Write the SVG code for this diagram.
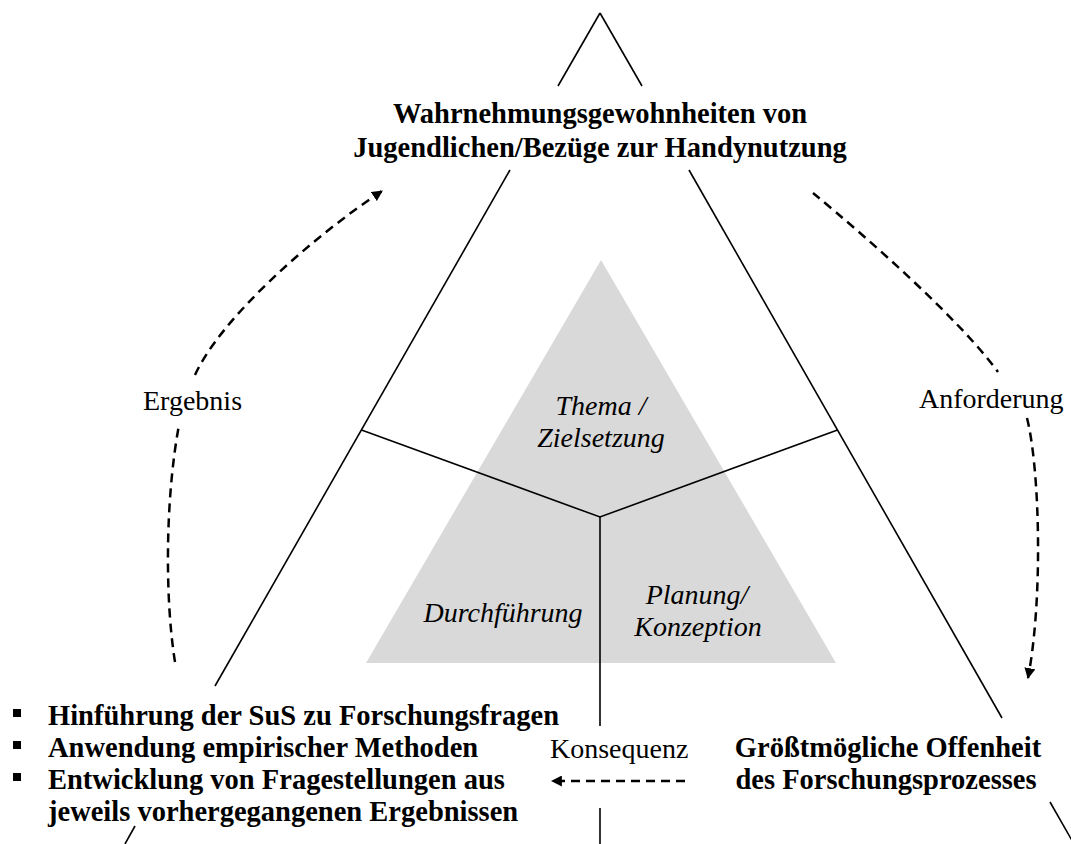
<svg xmlns="http://www.w3.org/2000/svg" width="1071" height="844" viewBox="0 0 1071 844">
  <style>
    .bold { font-family: "Liberation Serif", "Times New Roman", serif; font-weight: bold; font-size: 28.5px; fill: #000; }
    .reg { font-family: "Liberation Serif", "Times New Roman", serif; font-size: 28px; fill: #000; }
    .ital { font-family: "Liberation Serif", "Times New Roman", serif; font-style: italic; font-size: 28px; fill: #000; }
    .solid { stroke: #000; stroke-width: 1.6; fill: none; }
    .dash { stroke: #000; stroke-width: 2.5; fill: none; stroke-dasharray: 9 6; }
  </style>
  <defs>
    <marker id="ah" viewBox="0 0 10 10" refX="9" refY="5" markerWidth="11" markerHeight="11" markerUnits="userSpaceOnUse" orient="auto">
      <path d="M0,0 L10,5 L0,10 z" fill="#000"/>
    </marker>
  </defs>
  <rect width="1071" height="844" fill="#fff"/>

  <g id="inner-triangle">
    <polygon points="601,260 366,663 836,663" fill="#d9d9d9"/>
  </g>

  <g id="frame">
    <line class="solid" x1="600" y1="13" x2="558" y2="86"/>
    <line class="solid" x1="600" y1="13" x2="642" y2="86"/>
    <line class="solid" x1="510" y1="170" x2="215" y2="686"/>
    <line class="solid" x1="135" y1="826" x2="125" y2="844"/>
    <line class="solid" x1="689" y1="170" x2="1002" y2="718"/>
    <line class="solid" x1="1050" y1="802" x2="1074" y2="844"/>
    <polyline class="solid" points="361.5,430 600,517 837.5,430"/>
    <line class="solid" x1="600" y1="517" x2="600" y2="726"/>
    <line class="solid" x1="600" y1="808" x2="600" y2="844"/>
  </g>

  <g id="node-top">
    <text class="bold" x="600" y="123" text-anchor="middle">Wahrnehmungsgewohnheiten von</text>
    <text class="bold" x="600" y="157" text-anchor="middle">Jugendlichen/Bezüge zur Handynutzung</text>
  </g>

  <g id="node-thema">
    <text class="ital" x="601" y="415" text-anchor="middle">Thema /</text>
    <text class="ital" x="601" y="447" text-anchor="middle">Zielsetzung</text>
  </g>
  <g id="node-durchfuehrung">
    <text class="ital" x="503" y="622" text-anchor="middle">Durchführung</text>
  </g>
  <g id="node-planung">
    <text class="ital" x="697" y="604" text-anchor="middle">Planung/</text>
    <text class="ital" x="698" y="636" text-anchor="middle">Konzeption</text>
  </g>

  <g id="node-left">
    <rect x="13" y="709" width="8" height="8" fill="#000"/>
    <rect x="13" y="741" width="8" height="8" fill="#000"/>
    <rect x="13" y="773" width="8" height="8" fill="#000"/>
    <text class="bold" x="48" y="725">Hinführung der SuS zu Forschungsfragen</text>
    <text class="bold" x="48" y="757">Anwendung empirischer Methoden</text>
    <text class="bold" x="48" y="789">Entwicklung von Fragestellungen aus</text>
    <text class="bold" x="48" y="821">jeweils vorhergegangenen Ergebnissen</text>
  </g>

  <g id="node-right">
    <text class="bold" x="888" y="757" text-anchor="middle">Größtmögliche Offenheit</text>
    <text class="bold" x="886" y="789" text-anchor="middle">des Forschungsprozesses</text>
  </g>

  <g id="connectors">
    <path class="dash" d="M175,662 C165,600 165,500 179,425"/>
    <path class="dash" d="M195,375 C220,320 307,241 382,191" marker-end="url(#ah)"/>
    <path class="dash" d="M813,193 C870,240 960,320 998,372"/>
    <path class="dash" d="M1027,418 C1040,470 1043,600 1028,678" marker-end="url(#ah)"/>
    <path class="dash" d="M685,781 L552,781" marker-end="url(#ah)"/>
  </g>

  <g id="labels">
    <text class="reg" x="143" y="410">Ergebnis</text>
    <text class="reg" x="919" y="408">Anforderung</text>
    <text class="reg" x="550" y="758">Konsequenz</text>
  </g>
</svg>
